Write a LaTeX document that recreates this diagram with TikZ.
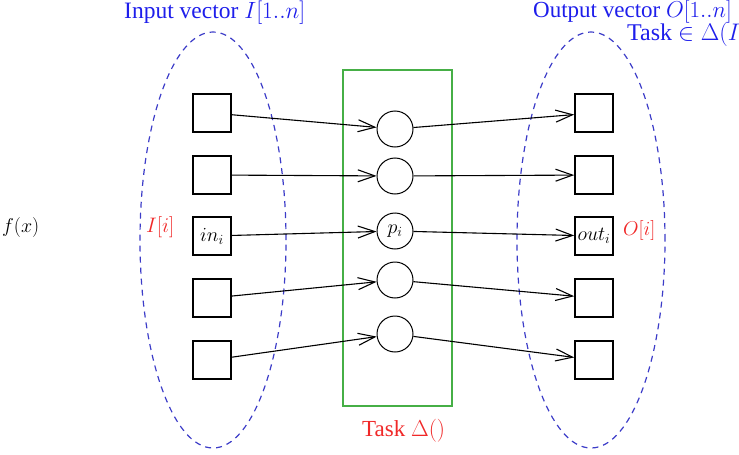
\RequirePackage{fix-cm}
\documentclass[tikz,border=0pt]{standalone}
\usepackage[no-math]{fontspec}
\setmainfont{Liberation Serif}
\usetikzlibrary{arrows.meta}
\definecolor{ellblue}{RGB}{60,60,200}
\definecolor{txtblue}{RGB}{30,30,235}
\definecolor{txtred}{RGB}{240,40,40}
\definecolor{boxgreen}{RGB}{70,175,70}
\newcommand{\fsz}[1]{\fontsize{#1}{#1}\selectfont}
\begin{document}
\begin{tikzpicture}[x=1pt,y=-1pt,
  sq/.style={draw,line width=1.6pt,minimum size=38pt,inner sep=0pt,font=\fsz{20}},
  cir/.style={draw,circle,line width=1pt,minimum size=36pt,inner sep=0pt,font=\fsz{20}},
  arr/.style={line width=1.1pt,-{Straight Barb[length=17pt,width=12pt,line width=1.1pt]}},
  lbl/.style={inner sep=0pt,anchor=base west},
  ell/.style={ellblue,dash pattern=on 6pt off 5pt,line width=1.2pt}]
\useasboundingbox (0,0) rectangle (739,455);
\clip (0,0) rectangle (739,455);

% ellipses and task box
\draw[ell] (213,240) ellipse [x radius=73pt,y radius=208pt];
\draw[ell] (591,240) ellipse [x radius=74pt,y radius=208pt];
\draw[boxgreen,line width=1.3pt] (343,70) rectangle (452,406);

% input squares
\node[sq] (l1) at (212,113) {};
\node[sq] (l2) at (212,175) {};
\node[sq] (l3) at (212,236) {$in_i$};
\node[sq] (l4) at (212,298) {};
\node[sq] (l5) at (212,360) {};

% processors
\node[cir] (c1) at (395,129) {};
\node[cir] (c2) at (395,176) {};
\node[cir] (c3) at (395,231) {$p_i$};
\node[cir] (c4) at (395,280) {};
\node[cir] (c5) at (395,334) {};

% output squares
\node[sq] (r1) at (594,113) {};
\node[sq] (r2) at (594,175) {};
\node[sq] (r3) at (594,236) {$out_i$};
\node[sq] (r4) at (594,298) {};
\node[sq] (r5) at (594,360) {};

\foreach \i in {1,...,5}{
  \draw[arr] (l\i) -- (c\i);
  \draw[arr] (c\i) -- (r\i);
}

% labels
\node[lbl,txtblue] (tin) at (124,18) {\fsz{23.5}Input vector $I[1..n]$};
\node[lbl,txtblue] (tout) at (533,17) {\fsz{23}Output vector $O[1..n]$};
\node[lbl,txtblue] (ttask) at (627,40) {\fsz{24}Task $\in \Delta(I)$};
\node[lbl] (fx) at (2,232) {\fsz{20}$f(x)$};
\node[lbl,txtred] (ii) at (146,232) {\fsz{21}$I[i]$};
\node[lbl,txtred] (oi) at (623,235) {\fsz{20}$O[i]$};
\node[lbl,txtred] (td) at (362,436) {\fsz{23}Task $\Delta()$};
\end{tikzpicture}
\end{document}
